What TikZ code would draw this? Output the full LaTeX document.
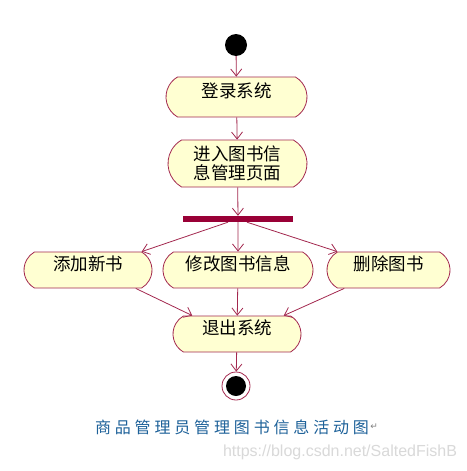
\documentclass[tikz,border=0pt]{standalone}
\usepackage{fontspec}
\newfontfamily\cjk{Noto Sans CJK SC}
\newfontfamily\capfont{Noto Sans CJK SC}[LetterSpace=24]
\newfontfamily\symfont{DejaVu Sans}
\newfontfamily\markfont{Liberation Sans}
\usetikzlibrary{shapes.misc,arrows.meta}
\definecolor{umlline}{HTML}{A3284F}
\definecolor{umlfill}{HTML}{FFFFD2}
\definecolor{umlbar}{HTML}{990036}
\definecolor{capblue}{HTML}{1D6199}
\tikzset{
  act/.style={rounded rectangle,rounded rectangle arc length=120,draw=umlline,fill=umlfill,
    line width=0.8pt,inner sep=0pt,minimum height=36pt,font=\cjk\fontsize{17.5}{19}\selectfont,align=center},
  lift/.style={text height=14pt,text depth=14pt},
  flow/.style={draw=umlline,line width=0.8pt,-{Straight Barb[length=7pt,width=11pt]}}
}
\begin{document}
\begin{tikzpicture}[x=1pt,y=-1pt]
\useasboundingbox[fill=white] (0,0) rectangle (466,471);
\node[circle,fill=black,minimum size=22pt,inner sep=0pt] (start) at (236,45) {};
\node[act,lift,minimum width=141pt,minimum height=40pt] (login) at (236.5,97) {登录系统};
\node[act,minimum width=139pt,minimum height=47pt] (enter) at (237.5,163.5) {进入图书信\\息管理页面};
\node[fill=umlbar,minimum width=110pt,minimum height=6pt,inner sep=0pt] (fork) at (238,219) {};
\node[act,lift,minimum width=128pt] (add) at (88,270) {添加新书};
\node[act,lift,minimum width=150pt] (modify) at (238,270) {修改图书信息};
\node[act,lift,minimum width=123pt] (delete) at (388.5,270) {删除图书};
\node[act,lift,minimum width=128pt] (exit) at (237,334) {退出系统};
\node[circle,draw=umlline,line width=0.8pt,fill=white,minimum size=28pt,inner sep=0pt] (stop) at (236,386) {};
\node[circle,fill=black,minimum size=20pt,inner sep=0pt] at (stop) {};
\draw[flow] (start) -- (login);
\draw[flow] (login) -- (enter);
\draw[flow] (enter) -- (fork);
\draw[flow] ([xshift=-10pt]fork.south) -- (add.north east);
\draw[flow] (fork.south) -- (modify);
\draw[flow] ([xshift=9pt]fork.south) -- (delete.north west);
\draw[flow] ([xshift=-6pt]add.south east) -- ([xshift=9pt]exit.north west);
\draw[flow] (modify) -- (exit);
\draw[flow] ([xshift=7pt]delete.south west) -- ([xshift=-7pt]exit.north east);
\draw[flow] (exit) -- (stop);
% caption
\node[text=capblue,font=\capfont\fontsize{16}{19}\selectfont,inner sep=0pt] (caption) at (232,427) {商品管理员管理图书信息活动图};
\node[right=1pt,text=gray,font=\symfont\fontsize{9}{10}\selectfont,inner sep=0pt] (ret) at (caption.east) {↵};
\node[text=black!15,font=\markfont\fontsize{16}{18}\selectfont,inner sep=0pt] (mark) at (340,452) {https://blog.csdn.net/SaltedFishB};
\end{tikzpicture}
\end{document}
